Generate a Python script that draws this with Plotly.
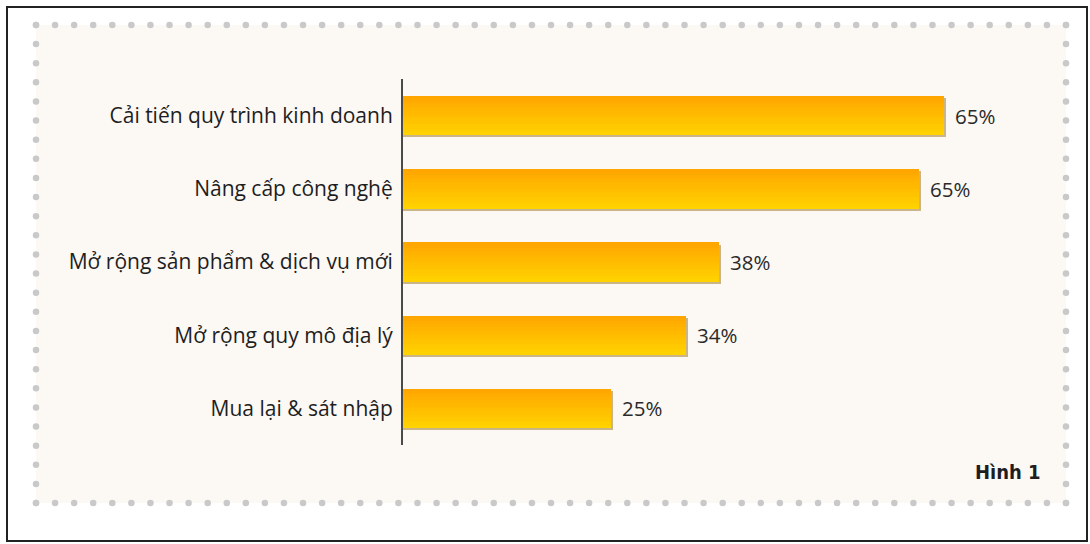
import plotly.graph_objects as go
import numpy as np

# ---- data ----
categories = [
    "Cải tiến quy trình kinh doanh",
    "Nâng cấp công nghệ",
    "Mở rộng sản phẩm & dịch vụ mới",
    "Mở rộng quy mô địa lý",
    "Mua lại & sát nhập",
]
values = [65, 62, 38, 34, 25]          # bar lengths as drawn
value_labels = ["65%", "65%", "38%", "34%", "25%"]  # printed labels
figure_label = "Hình 1"

W, H = 1090, 544
fig = go.Figure()

def px(x):
    return x / W

def py(y):
    return 1 - y / H

# ---- bars: shadow + gradient bands ----
bar_w = 0.535
shadow_shift = 0.03
fig.add_trace(go.Bar(
    y=categories, x=[v + 0.25 for v in values], orientation="h",
    width=bar_w, offset=-bar_w / 2 + shadow_shift,
    marker=dict(color="rgba(160,125,50,0.55)", line=dict(width=0)),
    hoverinfo="skip", showlegend=False,
))
N = 14
top_rgb = np.array([255, 166, 0])
bot_rgb = np.array([255, 210, 0])
for i in range(N):
    t = i / (N - 1)
    c = (top_rgb * (1 - t) + bot_rgb * t).round().astype(int)
    fig.add_trace(go.Bar(
        y=categories, x=values, orientation="h",
        width=bar_w / N + 0.002, offset=-bar_w / 2 + i * bar_w / N,
        marker=dict(color=f"rgb({c[0]},{c[1]},{c[2]})", line=dict(width=0)),
        hoverinfo="skip", showlegend=False,
    ))

# ---- value labels ----
for cat, v, lab in zip(categories, values, value_labels):
    fig.add_annotation(x=v, y=cat, xref="x", yref="y", text=lab,
                       showarrow=False, xanchor="left", xshift=9,
                       font=dict(family="Open Sans", size=20.5, color="#2a2a2a"))

# ---- dotted frame (decoration in figure pixels) ----
x0d, x1d, y0d, y1d = 36, 1066, 25, 503
nx, ny = 54, 25
dx = np.linspace(x0d, x1d, nx + 1)
dy = np.linspace(y0d, y1d, ny + 1)
dots_x = list(dx) + list(dx) + [x0d] * (ny + 1) + [x1d] * (ny + 1)
dots_y = [y0d] * (nx + 1) + [y1d] * (nx + 1) + list(dy) + list(dy)
fig.add_trace(go.Scatter(
    x=dots_x, y=dots_y, xaxis="x2", yaxis="y2", mode="markers",
    marker=dict(size=6.5, color="#c9c9c9", line=dict(width=0)),
    hoverinfo="skip", showlegend=False,
))

shapes = [
    dict(type="rect", xref="paper", yref="paper",
         x0=px(x0d), x1=px(x1d), y0=py(y1d), y1=py(y0d),
         fillcolor="#fcf8f4", line=dict(width=0), layer="below"),
    dict(type="rect", xref="paper", yref="paper",
         x0=px(7), x1=px(1087), y0=py(541), y1=py(7),
         fillcolor="rgba(0,0,0,0)", line=dict(width=2, color="#222222"), layer="above"),
]

fig.add_annotation(x=px(1043), y=py(472), xref="paper", yref="paper",
                   text=f"<b>{figure_label}</b>",
                   showarrow=False, xanchor="right", yanchor="middle",
                   font=dict(family="DejaVu Sans Condensed",
                             size=20, color="#1e1e1e"))

ax_l, ax_r, ax_t, ax_b = 403, 1065, 79, 445
fig.update_layout(
    width=W, height=H,
    margin=dict(l=0, r=0, t=0, b=0, pad=0),
    paper_bgcolor="white", plot_bgcolor="rgba(0,0,0,0)",
    barmode="overlay", bargap=0,
    shapes=shapes,
    xaxis=dict(domain=[ax_l / W, ax_r / W], range=[0, (ax_r - ax_l) / 8.32],
               visible=False, fixedrange=True),
    yaxis=dict(domain=[1 - ax_b / H, 1 - ax_t / H], autorange="reversed",
               showline=True, linecolor="#4a4a4a", linewidth=2,
               showgrid=False, zeroline=False,
               ticks="outside", ticklen=4, tickcolor="rgba(0,0,0,0)",
               tickfont=dict(family="Open Sans", size=21, color="#1e1e1e"),
               fixedrange=True),
    xaxis2=dict(domain=[0, 1], range=[0, W], visible=False, fixedrange=True, anchor="y2"),
    yaxis2=dict(domain=[0, 1], range=[H, 0], visible=False, fixedrange=True, anchor="x2"),
    font=dict(family="Open Sans"),
)
fig.write_html("out.html", config={"displayModeBar": False})
